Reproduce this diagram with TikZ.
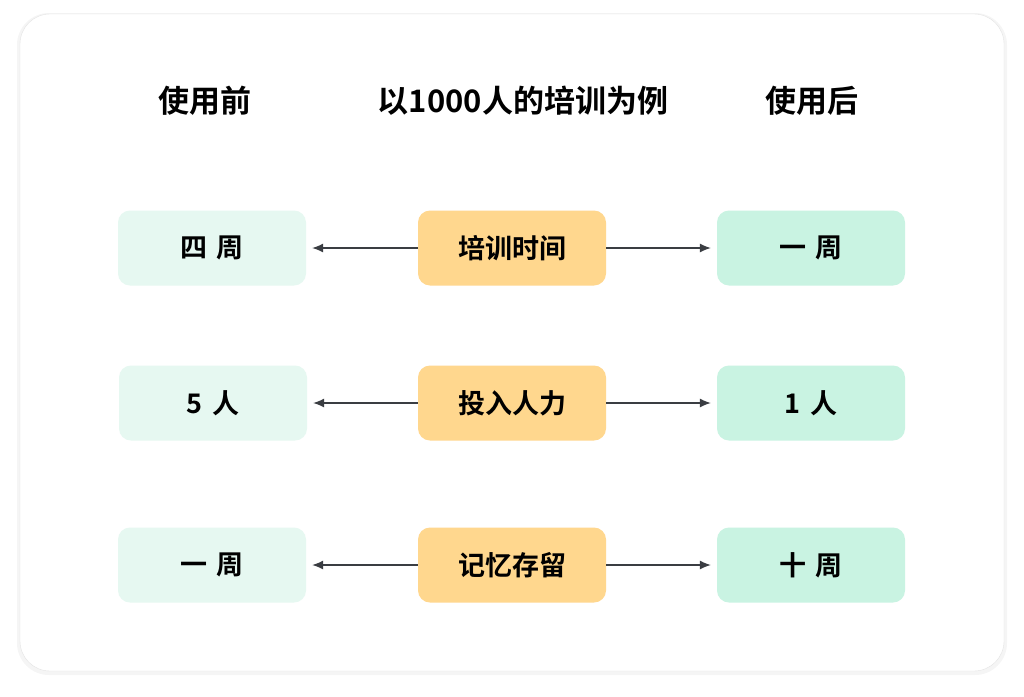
\documentclass[tikz,border=0pt]{standalone}
\usepackage{fontspec}
\setmainfont{Noto Sans CJK SC}[BoldFont={Noto Sans CJK SC Bold}]
\usetikzlibrary{arrows.meta}
\definecolor{before}{HTML}{E6F8F1}
\definecolor{after}{HTML}{C9F3E2}
\definecolor{topic}{HTML}{FFD78E}
\definecolor{arrowgray}{HTML}{3A3D42}
\definecolor{cardline}{HTML}{E4E4E4}
\tikzset{box/.style={rounded corners=12pt, minimum width=188pt, minimum height=75pt, inner sep=0pt, font=\fontsize{27}{32}\selectfont\bfseries},
  head/.style={font=\fontsize{31}{37}\selectfont\bfseries},
  link/.style={arrowgray, line width=1.1pt, -{Latex[length=11pt,width=9pt]}}}
\newcommand{\gap}{\hspace{0.35em}}

\begin{document}
\begin{tikzpicture}[x=1pt,y=-1pt]
      \useasboundingbox (0,0) rectangle (1024,696);
      \fill [black!4, rounded corners=32pt] (17,13) rectangle (1007,675);
      \draw [cardline, fill=white, rounded corners=30pt] (20,14) rectangle (1004,671);

      \node [head] (hbefore) at (205,101) {使用前};
      \node [head] (htopic) at (523,101) {以1000人的培训为例};
      \node [head] (hafter) at (812,101) {使用后};

      \node [box, fill=before] (b1) at (212,248) {四\gap 周};
      \node [box, fill=topic] (t1) at (512,248) {培训时间};
      \node [box, fill=after] (a1) at (811,248) {一\gap 周};

      \node [box, fill=before] (b2) at (213,403) {5\gap 人};
      \node [box, fill=topic] (t2) at (512,403) {投入人力};
      \node [box, fill=after] (a2) at (811,403) {1\gap 人};

      \node [box, fill=before] (b3) at (212,565) {一\gap 周};
      \node [box, fill=topic] (t3) at (512,565) {记忆存留};
      \node [box, fill=after] (a3) at (811,565) {十\gap 周};

      \draw [link] (t1.west) -- ([xshift=6pt]b1.east);
      \draw [link] (t1.east) -- ([xshift=-6pt]a1.west);
      \draw [link] (t2.west) -- ([xshift=6pt]b2.east);
      \draw [link] (t2.east) -- ([xshift=-6pt]a2.west);
      \draw [link] (t3.west) -- ([xshift=6pt]b3.east);
      \draw [link] (t3.east) -- ([xshift=-6pt]a3.west);
    \end{tikzpicture}
\end{document}
